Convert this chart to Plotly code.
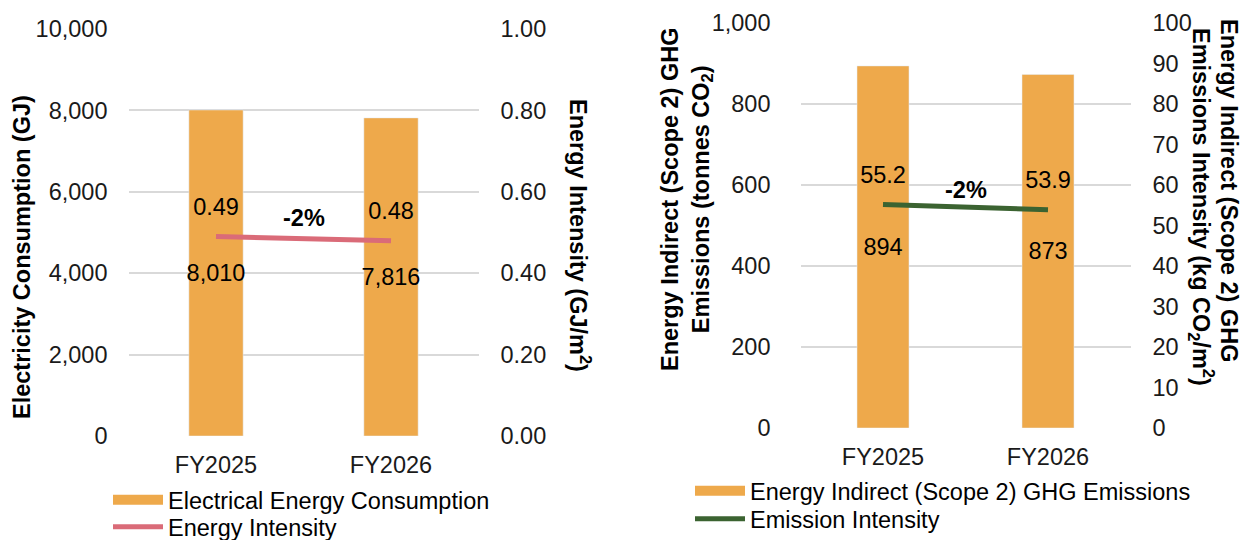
import plotly.graph_objects as go

# ---- data ----
years = ["FY2025", "FY2026"]
electricity_gj = [8010, 7816]
energy_intensity = [0.49, 0.48]
scope2_tonnes = [894, 873]
emission_intensity = [55.2, 53.9]
change_labels = ["-2%", "-2%"]

ORANGE = "#EEA94B"
PINK = "#DA6B78"
GREEN = "#3B6331"
GRID = "#D9D9D9"
FONT = "Liberation Sans, Arial, sans-serif"
FS = 23.5
W, H = 1243, 540


def px_x(p):
    return p / W


def px_y(p):
    return 1 - p / H


fig = go.Figure()

label_font = dict(size=FS, color="black", family=FONT)

# Left chart
fig.add_trace(go.Bar(x=years, y=electricity_gj, marker_color=ORANGE, width=0.31,
                     texttemplate="%{y:,}", textposition="inside", insidetextanchor="middle",
                     textangle=0, constraintext="none",
                     textfont=label_font, xaxis="x", yaxis="y",
                     showlegend=False, hoverinfo="skip"))
fig.add_trace(go.Scatter(x=years, y=energy_intensity, mode="lines+markers+text",
                         line=dict(color=PINK, width=5),
                         marker=dict(size=23, color="rgba(0,0,0,0)"),
                         texttemplate="%{y:.2f}",
                         textposition="top center", textfont=label_font,
                         xaxis="x", yaxis="y2", showlegend=False))
# legend proxies (left)
fig.add_trace(go.Scatter(x=[None], y=[None], mode="lines", line=dict(color=ORANGE, width=10),
                         name="Electrical Energy Consumption", legend="legend", xaxis="x", yaxis="y"))
fig.add_trace(go.Scatter(x=[None], y=[None], mode="lines", line=dict(color=PINK, width=5),
                         name="Energy Intensity", legend="legend2", xaxis="x", yaxis="y"))

# Right chart
fig.add_trace(go.Bar(x=years, y=scope2_tonnes, marker_color=ORANGE, width=0.315,
                     texttemplate="%{y:,}", textposition="inside", insidetextanchor="middle",
                     textangle=0, constraintext="none",
                     textfont=label_font, xaxis="x2", yaxis="y3",
                     showlegend=False, hoverinfo="skip"))
fig.add_trace(go.Scatter(x=years, y=emission_intensity, mode="lines+markers+text",
                         line=dict(color=GREEN, width=5),
                         marker=dict(size=24, color="rgba(0,0,0,0)"),
                         texttemplate="%{y:.1f}",
                         textposition="top center", textfont=label_font,
                         xaxis="x2", yaxis="y4", showlegend=False))
fig.add_trace(go.Scatter(x=[None], y=[None], mode="lines", line=dict(color=ORANGE, width=10),
                         name="Energy Indirect (Scope 2) GHG Emissions", legend="legend3",
                         xaxis="x2", yaxis="y3"))
fig.add_trace(go.Scatter(x=[None], y=[None], mode="lines", line=dict(color=GREEN, width=5),
                         name="Emission Intensity", legend="legend4", xaxis="x2", yaxis="y3"))

tickfont = dict(size=FS, color="#1a1a1a", family=FONT)


def leg(xp, yp):
    return dict(x=px_x(xp), y=px_y(yp), xanchor="left", yanchor="middle",
                font=dict(size=FS, color="black", family=FONT), bgcolor="rgba(0,0,0,0)",
                tracegroupgap=0, itemwidth=50)


fig.update_layout(
    width=W, height=H, margin=dict(l=0, r=0, t=0, b=0, autoexpand=False),
    paper_bgcolor="white", plot_bgcolor="white",
    font=dict(family=FONT, size=FS, color="black"),
    xaxis=dict(domain=[px_x(128.5), px_x(478.5)], type="category", range=[-0.5, 1.5],
               showgrid=False, showline=False, ticks="", tickfont=tickfont,
               ticklabelstandoff=12, anchor="y", automargin=False),
    yaxis=dict(domain=[px_y(436), px_y(29)], range=[0, 10000], dtick=2000, tickformat=",",
               showgrid=True, gridcolor=GRID, gridwidth=1.5, zeroline=False, showline=False,
               ticks="", tickfont=tickfont, ticklabelstandoff=20, anchor="x", automargin=False),
    yaxis2=dict(overlaying="y", side="right", range=[0, 1], dtick=0.2, tickformat=".2f",
                showgrid=False, zeroline=False, showline=False, ticks="", tickfont=tickfont,
                ticklabelstandoff=21, anchor="x", automargin=False),
    xaxis2=dict(domain=[px_x(800.5), px_x(1130.5)], type="category", range=[-0.5, 1.5],
                showgrid=False, showline=False, ticks="", tickfont=tickfont,
                ticklabelstandoff=12, anchor="y3", automargin=False),
    yaxis3=dict(domain=[px_y(428), px_y(23)], range=[0, 1000], dtick=200, tickformat=",",
                showgrid=True, gridcolor=GRID, gridwidth=1.5, zeroline=False, showline=False,
                ticks="", tickfont=tickfont, ticklabelstandoff=29, anchor="x2", automargin=False),
    yaxis4=dict(overlaying="y3", side="right", range=[0, 100], dtick=10,
                showgrid=False, zeroline=False, showline=False, ticks="", tickfont=tickfont,
                ticklabelstandoff=21, anchor="x2", automargin=False),
    legend=leg(108, 500),
    legend2=leg(108, 527),
    legend3=leg(690, 491),
    legend4=leg(690, 519),
)

# axis titles as annotations
title_font = dict(size=FS, color="black", family=FONT)


def title(text, xp, yp, angle):
    fig.add_annotation(text=text, x=px_x(xp), y=px_y(yp), xref="paper", yref="paper",
                       xanchor="center", yanchor="middle", textangle=angle,
                       showarrow=False, font=title_font)


title("<b>Electricity Consumption (GJ)</b>", 22, 257, -90)
title("<b>Energy Intensity (GJ/m<sup>2</sup>)</b>", 580, 235, 90)
title("<b>Energy Indirect (Scope 2) GHG<br>Emissions (tonnes CO<sub>2</sub>)</b>", 686, 200, -90)
title("<b>Energy Indirect (Scope 2) GHG</b>", 1229, 190, 90)
title("<b>Emissions Intensity (kg CO<sub>2</sub>/m<sup>2</sup>)</b>", 1201, 207, 90)

# change labels
fig.add_annotation(text="<b>%s</b>" % change_labels[0], x=0.5, y=0.535, xref="x", yref="y2",
                   showarrow=False, font=dict(size=FS, color="black", family=FONT))
fig.add_annotation(text="<b>%s</b>" % change_labels[1], x=0.5, y=58.8, xref="x2", yref="y4",
                   showarrow=False, font=dict(size=FS, color="black", family=FONT))

fig.write_html("out.html", config={"displayModeBar": False},
               post_script="document.body.style.margin='0';document.body.style.overflow='hidden';")
